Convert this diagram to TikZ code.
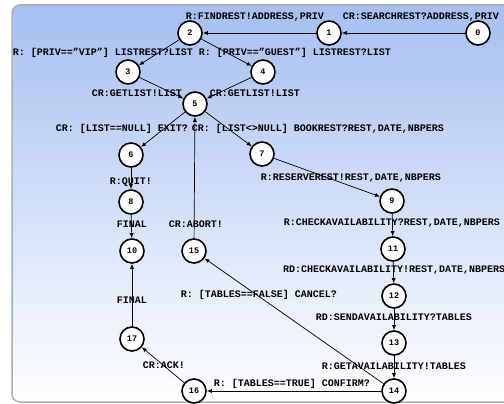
\documentclass[tikz,border=0pt]{standalone}
\usepackage{fontspec}
\setmonofont{Liberation Mono}
\usetikzlibrary{arrows.meta}
\definecolor{bgtop}{RGB}{166,191,241}
\definecolor{bgborder}{RGB}{175,175,175}
\tikzset{
  st/.style={circle,draw=black,line width=1.6pt,fill=white,minimum size=24pt,inner sep=0pt,
    font=\ttfamily\bfseries\fontsize{8.5}{10}\selectfont},
  lbl/.style={inner sep=0pt,font=\ttfamily\bfseries\fontsize{10}{12}\selectfont},
  tr/.style={draw=black,line width=0.7pt,-{Latex[length=5pt,width=4pt]}}
}
\begin{document}
\begin{tikzpicture}[x=1pt,y=-1pt]
\useasboundingbox (0,0) rectangle (504,404);
\shade[top color=bgtop,bottom color=white,rounded corners=8pt,draw=bgborder,line width=1.5pt]
  (12,5) rectangle (520,402);
% states
\node[st] (s0) at (478,33) {0};
\node[st] (s1) at (329,33) {1};
\node[st] (s2) at (190,33) {2};
\node[st] (s3) at (128,72) {3};
\node[st] (s4) at (263,72) {4};
\node[st] (s5) at (195,104) {5};
\node[st] (s6) at (131,155) {6};
\node[st] (s7) at (262,154) {7};
\node[st] (s8) at (131,202) {8};
\node[st] (s9) at (392,201) {9};
\node[st] (s10) at (132,251) {10};
\node[st] (s15) at (194,251) {15};
\node[st] (s11) at (393,249) {11};
\node[st] (s12) at (394,296) {12};
\node[st] (s13) at (394,343) {13};
\node[st] (s14) at (394,391) {14};
\node[st] (s16) at (194,391) {16};
\node[st] (s17) at (132,339) {17};
% transitions
\draw[tr] (s0) -- (s1);
\draw[tr] (s1) -- (s2);
\draw[tr] (s2) -- (s3);
\draw[tr] (s2) -- (s4);
\draw[tr] (s3) -- (s5);
\draw[tr] (s4) -- (s5);
\draw[tr] (s5) -- (s6);
\draw[tr] (s5) -- (s7);
\draw[tr] (s6) -- (s8);
\draw[tr] (s7) -- (s9);
\draw[tr] (s8) -- (s10);
\draw[tr] (s9) -- (s11);
\draw[tr] (s11) -- (s12);
\draw[tr] (s12) -- (s13);
\draw[tr] (s13) -- (s14);
\draw[tr] (s14) -- (s15);
\draw[tr] (s14) -- (s16);
\draw[tr] (s16) -- (s17);
\draw[tr] (s17) -- (s10);
\draw[tr] (s15) -- (s5);
% labels
\node[lbl] (l01) at (421,17) {CR:SEARCHREST?ADDRESS,PRIV};
\node[lbl] (l12) at (255,17) {R:FINDREST!ADDRESS,PRIV};
\node[lbl] (l23) at (103,53) {R: [PRIV==”VIP”] LISTREST?LIST};
\node[lbl] (l24) at (295,53) {R: [PRIV==”GUEST”] LISTREST?LIST};
\node[lbl] (l35) at (137,93) {CR:GETLIST!LIST};
\node[lbl] (l45) at (255,93) {CR:GETLIST!LIST};
\node[lbl] (l56) at (122,129) {CR: [LIST==NULL] EXIT?};
\node[lbl] (l57) at (318,129) {CR: [LIST<>NULL] BOOKREST?REST,DATE,NBPERS};
\node[lbl] (l68) at (131,182) {R:QUIT!};
\node[lbl] (l79) at (351,178) {R:RESERVEREST!REST,DATE,NBPERS};
\node[lbl] (l810) at (132,224) {FINAL};
\node[lbl] (l155) at (196,224) {CR:ABORT!};
\node[lbl] (l911) at (392,223) {R:CHECKAVAILABILITY?REST,DATE,NBPERS};
\node[lbl,anchor=west] (l1112) at (283,270) {RD:CHECKAVAILABILITY!REST,DATE,NBPERS};
\node[lbl] (l1415) at (259,295) {R: [TABLES==FALSE] CANCEL?};
\node[lbl] (l1710) at (132,300) {FINAL};
\node[lbl] (l1213) at (394,317) {RD:SENDAVAILABILITY?TABLES};
\node[lbl] (l1314) at (394,366) {R:GETAVAILABILITY!TABLES};
\node[lbl] (l1617) at (164,365) {CR:ACK!};
\node[lbl] (l1416) at (292,384) {R: [TABLES==TRUE] CONFIRM?};
\end{tikzpicture}
\end{document}
